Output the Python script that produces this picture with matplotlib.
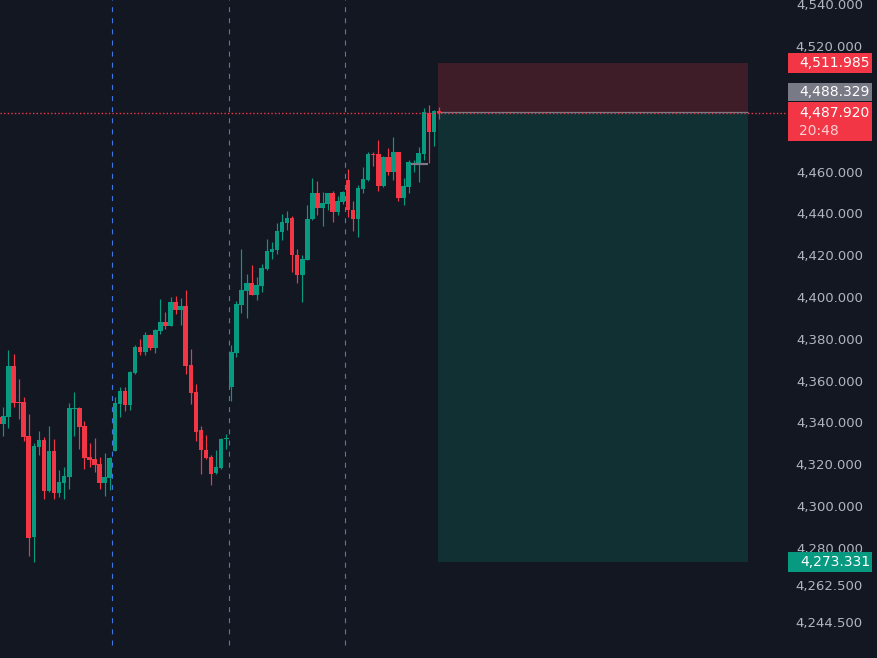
import numpy as np
import matplotlib
matplotlib.use("Agg")
import matplotlib.pyplot as plt
import matplotlib.transforms as mtransforms
from matplotlib.patches import Rectangle

# hourly candles, oldest first (first one is cut by the left edge)
opens = [4342.7, 4339.2, 4342.7, 4367.0, 4349.8, 4349.8, 4333.5, 4285.4, 4328.4, 4331.6,
         4307.4, 4326.3, 4306.4, 4311.2, 4314.0, 4346.6, 4346.9, 4338.3, 4323.5, 4322.5,
         4320.1, 4311.2, 4313.6, 4326.5, 4348.8, 4355.0, 4348.3, 4363.6, 4376.1, 4373.7,
         4381.8, 4375.6, 4383.9, 4388.0, 4386.1, 4397.6, 4393.8, 4395.7, 4367.5, 4354.5,
         4336.4, 4326.8, 4323.5, 4315.8, 4318.2, 4332.2, 4357.1, 4373.3, 4396.1, 4403.0,
         4406.7, 4400.9, 4405.2, 4413.4, 4421.5, 4422.4, 4431.1, 4435.4, 4437.7, 4420.1,
         4410.5, 4417.7, 4437.3, 4449.7, 4442.5, 4444.4, 4449.7, 4440.6, 4445.4, 4456.0,
         4441.6, 4437.3, 4451.6, 4456.0, 4468.4, 4468.4, 4453.1, 4467.0, 4459.8, 4469.3,
         4447.3, 4452.6, 4463.6, 4463.6, 4468.4, 4488.0, 4478.9, 4488.9]
highs = [4343.5, 4347.5, 4374.6, 4372.7, 4360.6, 4352.1, 4344.0, 4330.3, 4335.9, 4333.3,
         4338.3, 4332.1, 4317.2, 4318.7, 4349.3, 4354.5, 4347.2, 4340.7, 4330.1, 4332.5,
         4323.5, 4325.4, 4323.3, 4352.3, 4356.8, 4356.8, 4364.7, 4377.0, 4379.9, 4383.2,
         4382.3, 4384.7, 4399.0, 4392.8, 4400.0, 4400.4, 4399.5, 4403.3, 4375.1, 4358.4,
         4338.3, 4334.0, 4324.4, 4326.8, 4332.5, 4334.5, 4377.0, 4398.1, 4422.9, 4411.0,
         4415.3, 4409.5, 4415.7, 4427.7, 4426.3, 4435.4, 4439.7, 4441.1, 4438.7, 4422.9,
         4420.1, 4444.0, 4456.9, 4455.4, 4450.2, 4449.9, 4450.7, 4448.3, 4450.8, 4461.2,
         4445.9, 4453.6, 4462.2, 4469.3, 4469.3, 4475.1, 4467.4, 4471.3, 4476.5, 4469.3,
         4456.9, 4465.5, 4465.5, 4471.7, 4490.4, 4491.8, 4489.4, 4490.9]
lows = [4338.8, 4333.5, 4337.5, 4347.5, 4341.8, 4331.3, 4276.3, 4273.4, 4324.4, 4303.5,
        4306.9, 4303.5, 4304.5, 4303.5, 4308.3, 4333.7, 4327.4, 4317.9, 4318.8, 4316.4,
        4308.3, 4305.0, 4307.8, 4326.2, 4342.7, 4345.6, 4345.9, 4363.1, 4372.2, 4372.2,
        4374.6, 4373.2, 4382.3, 4384.7, 4386.1, 4391.8, 4386.6, 4363.1, 4348.8, 4331.1,
        4315.3, 4322.7, 4310.1, 4315.6, 4317.7, 4327.3, 4350.4, 4371.4, 4392.5, 4390.1,
        4400.9, 4398.5, 4402.4, 4412.9, 4418.1, 4420.5, 4427.2, 4432.0, 4411.9, 4406.7,
        4397.6, 4417.7, 4436.8, 4439.2, 4433.9, 4441.6, 4435.8, 4439.2, 4444.4, 4438.3,
        4431.6, 4428.7, 4449.7, 4455.5, 4462.6, 4450.7, 4452.6, 4458.3, 4456.0, 4445.9,
        4444.0, 4449.7, 4459.8, 4455.0, 4465.5, 4464.1, 4472.2, 4485.1]
closes = [4339.5, 4343.1, 4367.0, 4349.4, 4349.3, 4333.2, 4284.9, 4328.7, 4331.6, 4307.4,
          4326.3, 4306.4, 4311.5, 4314.4, 4346.9, 4346.9, 4338.0, 4323.1, 4322.2, 4319.8,
          4311.2, 4313.9, 4323.0, 4349.3, 4355.0, 4348.3, 4364.1, 4376.1, 4373.7, 4381.8,
          4375.6, 4384.2, 4388.0, 4386.1, 4397.6, 4393.8, 4395.7, 4367.0, 4354.1, 4335.4,
          4326.8, 4323.0, 4315.3, 4318.7, 4332.1, 4332.5, 4373.8, 4396.6, 4403.3, 4406.7,
          4400.9, 4405.7, 4413.8, 4422.0, 4422.9, 4431.5, 4435.8, 4437.7, 4420.1, 4410.5,
          4418.1, 4437.3, 4449.7, 4442.5, 4444.9, 4449.7, 4440.6, 4445.9, 4450.2, 4441.6,
          4437.3, 4452.1, 4456.4, 4468.4, 4467.9, 4453.1, 4467.0, 4459.8, 4469.3, 4447.3,
          4453.1, 4464.6, 4464.1, 4468.9, 4488.5, 4478.9, 4488.9, 4487.92]
first_bar = -1
session_breaks = [21.5, 44.5, 67.5]

# short position tool
stop_price = 4511.985
entry_price = 4488.329
target_price = 4273.331
position_start, position_end = 85.8, 147.0

last_price = 4487.920
countdown = "20:48"

# small horizontal ray drawn on the chart
ray_price, ray_start, ray_end = 4463.7, 80.4, 83.8

# 4,480 sits fully under the last-price label, so it is left out
price_ticks = [4540, 4520, 4500, 4460, 4440, 4420, 4400, 4380, 4360,
               4340, 4320, 4300, 4280, 4262.5, 4244.5]

BG = "#131722"
UP = "#089981"
DOWN = "#f23645"
GREY = "#787b86"
TXT = "#b2b5be"

plt.rcParams["font.family"] = ["DejaVu Sans"]

W, H = 878, 658
fig = plt.figure(figsize=(W / 100, H / 100), dpi=100, facecolor=BG)
ax = fig.add_axes([0, 0, 787 / W, 1])
ax.set_facecolor(BG)
ymin, ymax = 4227.4, 4542.0
ax.set_xlim(-0.67, 154.7)
ax.set_ylim(ymin, ymax)
ppx = (ymax - ymin) / H  # price per pixel

o = np.array(opens)
hi = np.array(highs)
lo = np.array(lows)
c = np.array(closes)
x = np.arange(len(o)) + first_bar
col = np.where(c >= o, UP, DOWN)

ax.vlines(x, lo, hi, colors=col, linewidth=0.85, zorder=4)
body = np.maximum(np.abs(c - o), 0.5)
ax.bar(x, body, width=0.9, bottom=np.minimum(o, c), color=col, linewidth=0, zorder=4)

for b in session_breaks:
    ax.axvline(b, ymin=13 / H, color="#3f78e0", linewidth=0.8,
               linestyle=(0, (4.5, 5.5)), snap=True, zorder=1)

# position zones
ax.add_patch(Rectangle((position_start, entry_price), position_end - position_start,
                       stop_price - entry_price, facecolor=DOWN, alpha=0.2,
                       edgecolor="none", zorder=2))
ax.add_patch(Rectangle((position_start, target_price), position_end - position_start,
                       entry_price - target_price, facecolor=UP, alpha=0.2,
                       edgecolor="none", zorder=2))
ax.hlines(entry_price, position_start, position_end, color=GREY, linewidth=0.9, zorder=3)

ax.axhline(last_price, color=DOWN, linewidth=1.0, linestyle=(0, (1.0, 1.6)), zorder=5)
ax.hlines(ray_price, ray_start, ray_end, color=GREY, linewidth=1.6, zorder=5)

for s in ax.spines.values():
    s.set_visible(False)
ax.set_xticks([])
ax.yaxis.tick_right()
ax.set_yticks(price_ticks)
ax.set_yticklabels([f"{v:,.3f}" for v in price_ticks])
ax.tick_params(axis="y", length=0, pad=54.7, labelsize=9.5, labelcolor=TXT)
plt.setp(ax.get_yticklabels(), ha="right")

# price labels on the scale
lab = mtransforms.blended_transform_factory(fig.transFigure, ax.transData)
bx0, bw = 788 / W, 84 / W
tx = 870 / W
tx_left = 799 / W


def price_box(y_lo, y_hi, color):
    ax.add_patch(Rectangle((bx0, y_lo), bw, y_hi - y_lo, transform=lab, facecolor=color,
                           edgecolor="none", clip_on=False, zorder=10))


def price_text(y, s, color="white", x=tx, ha="right"):
    ax.text(x, y, s, transform=lab, ha=ha, va="center", fontsize=10,
            color=color, clip_on=False, zorder=11)


price_box(stop_price - 10 * ppx, stop_price + 10 * ppx, DOWN)
price_text(stop_price, f"{stop_price:,.3f}")

red_top = last_price + 11.5 * ppx
price_box(last_price - 27.5 * ppx, red_top, DOWN)
price_text(last_price, f"{last_price:,.3f}")
price_text(last_price - 18 * ppx, countdown, color="#fbd0d4", x=tx_left, ha="left")

grey_c = red_top + 10 * ppx
price_box(grey_c - 9 * ppx, grey_c + 9 * ppx, GREY)
price_text(grey_c, f"{entry_price:,.3f}")

price_box(target_price - 10.3 * ppx, target_price + 10.3 * ppx, UP)
price_text(target_price, f"{target_price:,.3f}")

fig.savefig("out.png", dpi=100, facecolor=BG)
